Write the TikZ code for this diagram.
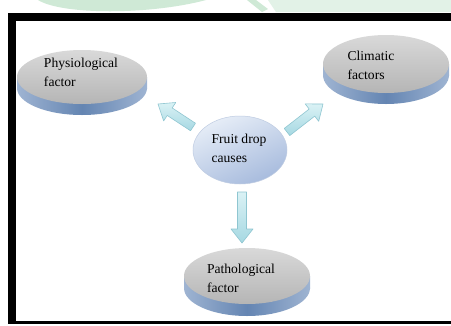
\documentclass[tikz,border=0pt]{standalone}
\usepackage{fontspec}
\setmainfont{Liberation Serif}
\usetikzlibrary{calc,shapes.geometric}
\definecolor{wmgreen}{HTML}{CFE9D6}
\definecolor{wmgreenl}{HTML}{E2F2E7}
\definecolor{rimedge}{HTML}{9FB4D2}
\definecolor{rimmid}{HTML}{6485B2}
\definecolor{facetop}{HTML}{D9D9D9}
\definecolor{facebot}{HTML}{B5B5B5}
\definecolor{ctrtop}{HTML}{E6EDF7}
\definecolor{ctrbot}{HTML}{A7BBDD}
\definecolor{ctrline}{HTML}{BFCCE2}
\definecolor{arrtop}{HTML}{DAF2F5}
\definecolor{arrbot}{HTML}{A6D8E2}
\definecolor{arrline}{HTML}{8FC6D1}
\tikzset{
  rimfill/.style={left color=rimedge,right color=rimedge,middle color=rimmid,draw=none},
  rimshape/.style={ellipse,inner sep=0pt,rimfill},
  face/.style={ellipse,inner sep=0pt,top color=facetop,bottom color=facebot,draw=none},
  centre/.style={ellipse,inner sep=0pt,minimum width=94pt,minimum height=68pt,
    top color=ctrtop,bottom color=ctrbot,shading angle=25,draw=ctrline,line width=0.5pt},
  facetext/.style={align=left,inner sep=0pt,font=\fontsize{13.6}{19}\selectfont},
  blockarr/.style={top color=arrtop,bottom color=arrbot,draw=arrline,line width=0.6pt,line join=round}
}
\newcommand\mydisk[6]{%
  \fill[rimfill] (#2-#4,#3) rectangle (#2+#4,#3+#6);
  \node[rimshape,minimum width={2*#4pt},minimum height={2*#5pt}] at (#2,#3+#6) {};
  \node[face,minimum width={2*#4pt},minimum height={2*#5pt}] (#1) at (#2,#3) {};
}
\newcommand\blockarrow[2]{%
  \coordinate (hb) at ($(#2)!14pt!(#1)$);
  \path[blockarr] ($(#1)!4.5pt!90:(#2)$) -- ($(hb)!4.5pt!90:(#2)$) -- ($(hb)!11pt!90:(#2)$)
    -- (#2) -- ($(hb)!11pt!-90:(#2)$) -- ($(hb)!4.5pt!-90:(#2)$) -- ($(#1)!4.5pt!-90:(#2)$) -- cycle;
}
\begin{document}
\begin{tikzpicture}[x=1pt,y=-1pt]
\useasboundingbox (0,0) rectangle (451,325);
\fill[white] (0,0) rectangle (451,325);
% watermark swoosh
\fill[wmgreen] (38,0) .. controls (62,15) and (150,15) .. (206,0) -- cycle;
\fill[wmgreen] (247,0) -- (256,0) -- (268,9) -- (262,12) -- cycle;
\fill[wmgreenl] (268,0) -- (451,0) -- (451,12) -- (276,12) -- cycle;
% frame
\fill[black] (8,13) rectangle (451,21);
\fill[black] (8,13) rectangle (16,324);
\fill[black] (8,321) rectangle (451,324);
% disks
\mydisk{phys}{82}{77}{65}{27}{11}
\mydisk{clim}{386}{64}{63}{29}{11}
\mydisk{path}{247}{276}{63}{28}{12}
\node[facetext] (physt) at (81,72.5) {Physiological\\factor};
\node[facetext] (climt) at (371,65) {Climatic\\factors};
\node[facetext] (patht) at (241,278.5) {Pathological\\factor};
% centre
\node[centre] (ctr) at (240,150) {};
\node[facetext] (ctrt) at (239,148) {Fruit drop\\causes};
% arrows
\coordinate (la) at (193,127);
\coordinate (lb) at (158,104);
\coordinate (ra) at (287,132);
\coordinate (rb) at (323,104);
\coordinate (da) at (242,192);
\coordinate (db) at (242,243);
\blockarrow{la}{lb}
\blockarrow{ra}{rb}
\blockarrow{da}{db}
\end{tikzpicture}
\end{document}
